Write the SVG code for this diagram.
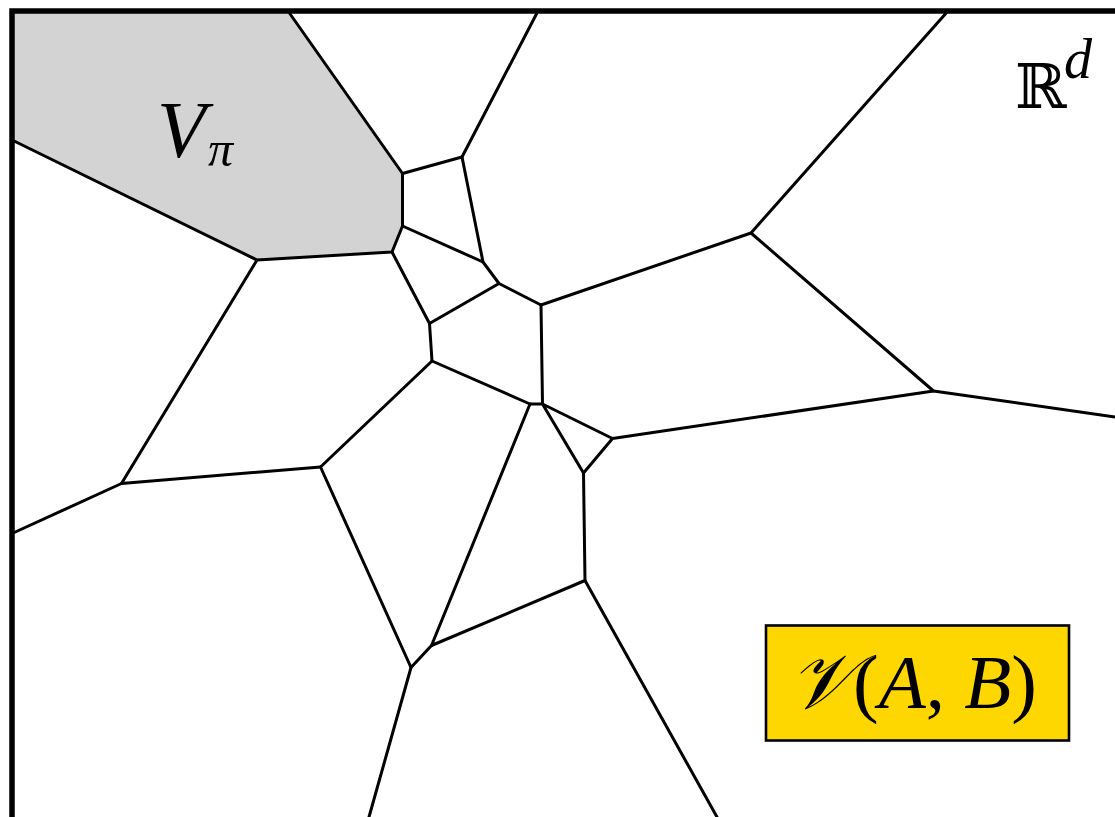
<svg xmlns="http://www.w3.org/2000/svg" width="1115" height="817" viewBox="0 0 1115 817">
<style>
.e{stroke:#000;stroke-width:3;fill:none;stroke-linecap:round;stroke-linejoin:round}
.m{font-family:"Liberation Serif","DejaVu Serif",serif;fill:#000}
.i{font-style:italic}
</style>
<rect width="1115" height="817" fill="#fff"/>
<g id="cell-vpi">
<polygon points="12,11 288,11 402.5,173.5 402.5,226 392,252 257,260 12,140" fill="#d3d3d3" stroke="none"/>
</g>
<g id="connectors">
<path class="e" d="M288,11 L402.5,173.5 L402.5,226 L392,252 L257,260 L12,140"/>
<path class="e" d="M402.5,173.5 L462,157 L538,11"/>
<path class="e" d="M462,157 L483,262 L402.5,226"/>
<path class="e" d="M483,262 L499,283.5 L541,305 L751,233 L948,11"/>
<path class="e" d="M392,252 L429.5,323.5 L499,283.5"/>
<path class="e" d="M751,233 L933.5,391 L1115,417"/>
<path class="e" d="M933.5,391 L612.5,438.5 L542.5,404 L583.5,473 L612.5,438.5"/>
<path class="e" d="M541,305 L542.5,404 L530,404 L432,361 L429.5,323.5"/>
<path class="e" d="M583.5,473 L585,580.5 L717,817"/>
<path class="e" d="M585,580.5 L431.5,645.5 L530,404"/>
<path class="e" d="M431.5,645.5 L411,667.5 L320.5,467 L432,361"/>
<path class="e" d="M411,667.5 L369,817"/>
<path class="e" d="M320.5,467 L121.5,483.5 L257,260"/>
<path class="e" d="M121.5,483.5 L12,533.5"/>
</g>
<g id="frame">
<path d="M12,817 L12,11 L1115,11" fill="none" stroke="#000" stroke-width="5.5"/>
</g>
<g id="label-vpi">
<text class="m i" x="157" y="157" font-size="80">V</text>
<text class="m i" x="208" y="166" font-size="50">π</text>
</g>
<g id="label-rd">
<text class="m" x="1015" y="108" font-size="62" font-family="DejaVu Serif">ℝ</text>
<text class="m i" x="1064" y="78" font-size="56">d</text>
</g>
<g id="legend">
<rect x="766" y="625.5" width="303" height="115" fill="#ffd700" stroke="#000" stroke-width="2.6"/>
<text class="m" x="789" y="708" font-size="77"><tspan class="i">𝒱</tspan>(<tspan class="i">A</tspan>, <tspan class="i">B</tspan>)</text>
</g>
</svg>
